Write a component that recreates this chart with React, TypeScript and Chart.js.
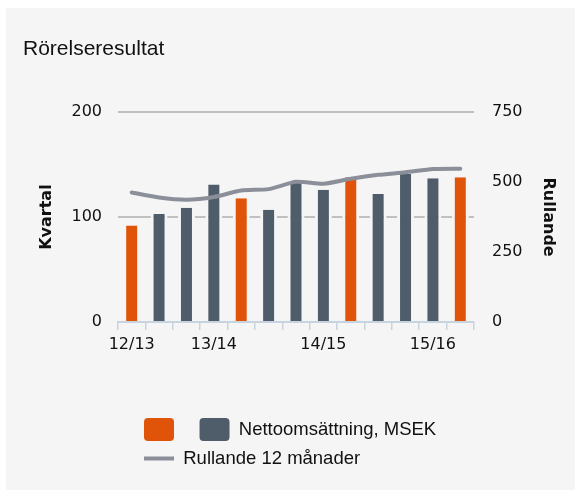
import React, { useEffect, useRef } from "react";
import { Chart, registerables } from "chart.js";

Chart.register(...registerables);

const categories = ["12/13", "", "", "13/14", "", "", "", "14/15", "", "", "", "15/16", ""];
const quarterValues = [92, 103, 109, 131, 118, 107, 134, 126, 138, 122, 141, 137, 138];
const rollingValues = [463, 445, 437, 447, 470, 475, 501, 494, 512, 526, 535, 547, 548];
const highlightIndex = [0, 4, 8, 12];
const leftTicks = [0, 100, 200];
const rightTicks = [0, 250, 500, 750];
const legendTexts = ["  ", "Nettoomsättning, MSEK", "Rullande 12 månader"];
const chartTitle = "Rörelseresultat";
const leftTitle = "Kvartal";
const rightTitle = "Rullande";

const BG = "#f5f5f5";
const ORANGE = "#e0540a";
const SLATE = "#4e5d69";
const LINE = "#8a8f99";
const GRID = "#c0c0c0";
const AXIS = "#c8d3e0";
const TEXT = "#111111";

const legendTweaks = {
  id: "legendTweaks",
  afterLayout(chart: any) {
    const lg = chart.legend;
    if (!lg) return;
    lg.left += 20;
    lg.right += 20;
  },
  afterDraw(chart: any) {
    const lg = chart.legend;
    if (!lg || !lg.legendHitBoxes || !lg.legendHitBoxes[2]) return;
    const hb = lg.legendHitBoxes[2];
    const bw = lg.options.labels.boxWidth;
    const ctx = chart.ctx;
    ctx.save();
    ctx.strokeStyle = LINE;
    ctx.lineWidth = 4;
    ctx.beginPath();
    ctx.moveTo(hb.left, hb.top + hb.height / 2);
    ctx.lineTo(hb.left + bw, hb.top + hb.height / 2);
    ctx.stroke();
    ctx.restore();
  },
};

export default function App() {
  const ref = useRef<HTMLCanvasElement | null>(null);
  useEffect(() => {
    if (!ref.current) return;
    const barColors = quarterValues.map((_, i) => (highlightIndex.includes(i) ? ORANGE : SLATE));
    const tickFont = { family: "DejaVu Sans", size: 16 };
    const chart = new Chart(ref.current, {
      type: "bar",
      data: {
        labels: categories,
        datasets: [
          {
            type: "line",
            label: legendTexts[2],
            data: rollingValues,
            yAxisID: "y1",
            borderColor: LINE,
            borderWidth: 4,
            pointRadius: 0,
            tension: 0.2,
            borderCapStyle: "round",
            borderJoinStyle: "round",
            order: 0,
          } as any,
          {
            type: "bar",
            label: legendTexts[1],
            data: quarterValues,
            yAxisID: "y",
            backgroundColor: barColors,
            borderColor: BG,
            borderWidth: { left: 3, right: 3, top: 0, bottom: 0 },
            borderSkipped: false,
            categoryPercentage: 1,
            barPercentage: 0.62,
            order: 1,
          } as any,
        ],
      },
      options: {
        animation: false,
        responsive: true,
        maintainAspectRatio: false,
        layout: { padding: { left: 17, right: 17, top: 0, bottom: 10 } },
        plugins: {
          tooltip: { enabled: false },
          title: {
            display: true,
            text: chartTitle,
            align: "start",
            color: TEXT,
            font: { family: "Liberation Sans", size: 21, weight: "normal" },
            padding: { top: 29, bottom: 50 },
          },
          legend: {
            display: true,
            position: "bottom",
            align: "start",
            fullSize: false,
            labels: {
              boxWidth: 30,
              boxHeight: 23,
              padding: 6,
              color: TEXT,
              useBorderRadius: true,
              borderRadius: 4,
              font: { family: "Liberation Sans", size: 18.5 },
              generateLabels: () => [
                { text: legendTexts[0], fillStyle: ORANGE, strokeStyle: ORANGE, lineWidth: 0, borderRadius: 4, fontColor: TEXT, hidden: false, datasetIndex: 1 },
                { text: legendTexts[1], fillStyle: SLATE, strokeStyle: SLATE, lineWidth: 0, borderRadius: 4, fontColor: TEXT, hidden: false, datasetIndex: 1 },
                { text: legendTexts[2], fillStyle: "rgba(0,0,0,0)", strokeStyle: "rgba(0,0,0,0)", lineWidth: 0, borderRadius: 0, fontColor: TEXT, hidden: false, datasetIndex: 0 },
              ],
            },
          } as any,
        },
        scales: {
          x: {
            type: "category",
            offset: true,
            grid: {
              offset: true,
              drawOnChartArea: false,
              drawTicks: true,
              tickLength: 8,
              color: AXIS,
              lineWidth: 1.5,
            },
            border: { display: true, color: AXIS, width: 2 },
            ticks: {
              autoSkip: false,
              maxRotation: 0,
              minRotation: 0,
              padding: 5,
              color: TEXT,
              font: tickFont,
            },
            afterFit: (s: any) => {
              s.height = 90;
            },
          },
          y: {
            position: "left",
            min: leftTicks[0],
            max: leftTicks[leftTicks.length - 1],
            afterBuildTicks: (s: any) => {
              s.ticks = leftTicks.map((v) => ({ value: v }));
            },
            grid: {
              drawTicks: false,
              color: (c: any) => (c.tick && c.tick.value === 0 ? "rgba(0,0,0,0)" : GRID),
              lineWidth: 2,
            },
            border: { display: false },
            ticks: { padding: 16, color: TEXT, font: tickFont },
            title: {
              display: true,
              text: leftTitle,
              color: TEXT,
              font: { family: "DejaVu Sans", size: 16, weight: "bold" },
              padding: { top: 14, bottom: 0 },
            },
            afterFit: (s: any) => {
              s.width = 95;
            },
          },
          y1: {
            position: "right",
            min: rightTicks[0],
            max: rightTicks[rightTicks.length - 1],
            afterBuildTicks: (s: any) => {
              s.ticks = rightTicks.map((v) => ({ value: v }));
            },
            grid: { drawOnChartArea: false, drawTicks: false },
            border: { display: false },
            ticks: { padding: 18, color: TEXT, font: tickFont },
            title: {
              display: true,
              text: rightTitle,
              color: TEXT,
              font: { family: "DejaVu Sans", size: 16, weight: "bold" },
              padding: { top: 0, bottom: 0 },
            },
            afterFit: (s: any) => {
              s.width = 84;
            },
          },
        },
      } as any,
      plugins: [legendTweaks],
    });
    return () => chart.destroy();
  }, []);

  return (
    <div style={{ position: "fixed", top: 8, left: 6, right: 0, bottom: 0, background: BG }}>
      <div style={{ position: "relative", width: 569, height: 482 }}>
        <canvas ref={ref} />
      </div>
    </div>
  );
}
